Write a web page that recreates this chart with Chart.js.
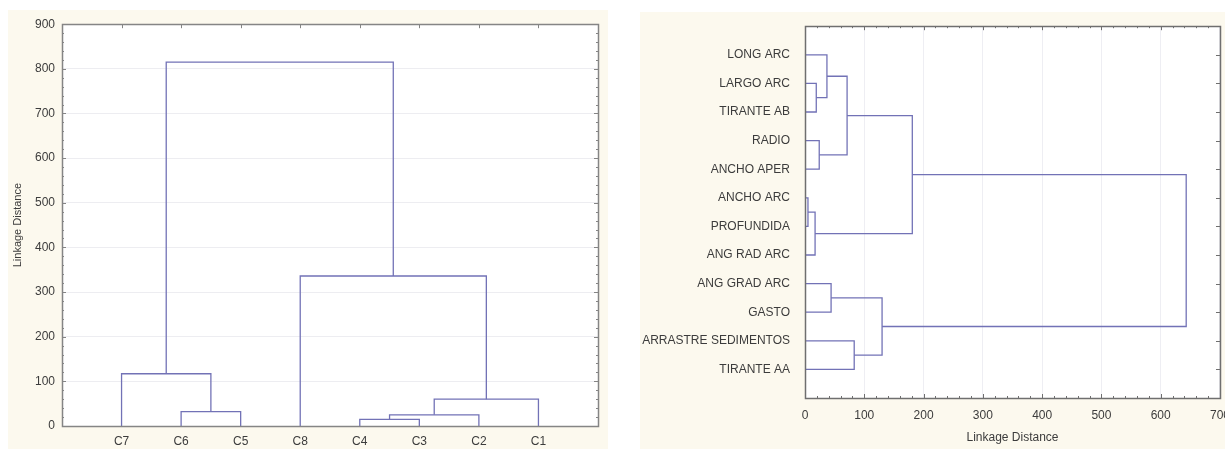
<!DOCTYPE html>
<html>
<head>
<meta charset="utf-8">
<script src="https://cdn.jsdelivr.net/npm/chart.js@4.4.1/dist/chart.umd.min.js"></script>
<style>
  html, body { margin: 0; padding: 0; background: #fff; overflow: hidden; width: 1225px; height: 449px; }
  .panel { position: absolute; background: #fcf9ee; }
  #leftPanel { left: 8px; top: 10px; width: 600px; height: 439px; }
  #rightPanel { left: 640px; top: 12px; width: 600px; height: 437px; }
</style>
</head>
<body>
<div class="panel" id="leftPanel"><canvas id="leftChart" width="600" height="439"></canvas></div>
<div class="panel" id="rightPanel"><canvas id="rightChart" width="600" height="437"></canvas></div>
<script>
// left dendrogram, leaves in drawing order
const clusterLabels = ['C7', 'C6', 'C5', 'C8', 'C4', 'C3', 'C2', 'C1'];
// [child a, child b, linkage distance]; ids >= leaf count point to earlier merges
const clusterMerges = [
  [4, 5, 15],
  [8, 6, 25],
  [1, 2, 32],
  [9, 7, 60],
  [0, 10, 117],
  [3, 11, 336],
  [12, 13, 815]
];
const clusterTicks = [0, 100, 200, 300, 400, 500, 600, 700, 800, 900];

// right dendrogram, leaves top to bottom
const varLabels = ['LONG ARC', 'LARGO ARC', 'TIRANTE AB', 'RADIO', 'ANCHO APER', 'ANCHO ARC',
  'PROFUNDIDA', 'ANG RAD ARC', 'ANG GRAD ARC', 'GASTO', 'ARRASTRE SEDIMENTOS', 'TIRANTE AA'];
const varMerges = [
  [5, 6, 5],
  [12, 7, 17],
  [1, 2, 19],
  [3, 4, 24],
  [0, 14, 37],
  [8, 9, 44],
  [16, 15, 71],
  [10, 11, 83],
  [17, 19, 130],
  [18, 13, 181],
  [21, 20, 643]
];
const varTicks = [0, 100, 200, 300, 400, 500, 600, 700];

const LINE = '#7272b6';
const TEXT = '#3c3c3c';
const FONT = { family: "'Liberation Sans', Arial, sans-serif", size: 12 };

function buildDatasets(labels, merges, horizontal) {
  const pos = labels.map((l, i) => i + 1);
  const h = labels.map(() => 0);
  const sets = [];
  merges.forEach(([a, b, d]) => {
    const pts = [[pos[a], h[a]], [pos[a], d], [pos[b], d], [pos[b], h[b]]];
    sets.push({
      data: pts.map(([p, v]) => horizontal ? { x: v, y: p } : { x: p, y: v }),
      showLine: true,
      borderColor: LINE,
      borderWidth: 1.3,
      pointRadius: 0,
      tension: 0
    });
    pos.push((pos[a] + pos[b]) / 2);
    h.push(d);
  });
  return sets;
}

function minorValues(ticks, step) {
  const out = [];
  for (let v = ticks[0]; v <= ticks[ticks.length - 1]; v += step) out.push(v);
  return out;
}

// white plot area, frame and inward tick marks
const framePlugin = {
  id: 'frame',
  beforeDraw(chart) {
    const a = chart.chartArea, ctx = chart.ctx;
    ctx.save();
    ctx.fillStyle = '#fff';
    ctx.fillRect(a.left, a.top, a.right - a.left, a.bottom - a.top);
    ctx.restore();
  },
  afterDraw(chart, args, opts) {
    const a = chart.chartArea, ctx = chart.ctx;
    ctx.save();
    ctx.strokeStyle = opts.color;
    ctx.lineWidth = 1;
    (opts.marks || []).forEach(m => {
      const sc = chart.scales[m.scale];
      m.values.forEach(v => {
        const p = Math.round(sc.getPixelForValue(v)) + 0.5;
        ctx.beginPath();
        if (m.side === 'left') { ctx.moveTo(a.left, p); ctx.lineTo(a.left + m.len, p); }
        if (m.side === 'right') { ctx.moveTo(a.right, p); ctx.lineTo(a.right - m.len, p); }
        if (m.side === 'top') { ctx.moveTo(p, a.top); ctx.lineTo(p, a.top + m.len); }
        if (m.side === 'bottom') { ctx.moveTo(p, a.bottom); ctx.lineTo(p, a.bottom - m.len); }
        ctx.stroke();
      });
    });
    ctx.lineWidth = opts.width;
    ctx.strokeRect(Math.round(a.left) + 0.5, Math.round(a.top) + 0.5,
      Math.round(a.right - a.left), Math.round(a.bottom - a.top));
    ctx.restore();
  }
};

new Chart(document.getElementById('leftChart'), {
  type: 'scatter',
  data: { datasets: buildDatasets(clusterLabels, clusterMerges, false) },
  options: {
    responsive: false,
    animation: false,
    events: [],
    layout: { padding: { top: 14, right: 10, left: 0, bottom: 0 } },
    plugins: {
      legend: { display: false },
      tooltip: { enabled: false },
      frame: {
        color: '#858585',
        width: 1.5,
        marks: [
          { scale: 'y', side: 'left', values: minorValues(clusterTicks, 20), len: 2 },
          { scale: 'y', side: 'left', values: clusterTicks, len: 4 },
          { scale: 'y', side: 'right', values: minorValues(clusterTicks, 20), len: 2 },
          { scale: 'y', side: 'right', values: clusterTicks, len: 4 },
          { scale: 'x', side: 'top', values: clusterLabels.map((l, i) => i + 1), len: 4 }
        ]
      }
    },
    scales: {
      x: {
        type: 'linear',
        min: 0,
        max: clusterLabels.length + 1,
        afterBuildTicks: s => { s.ticks = clusterLabels.map((l, i) => ({ value: i + 1 })); },
        afterFit: s => { s.height = 23; },
        ticks: {
          callback: v => clusterLabels[v - 1] || '',
          padding: 8, font: FONT, color: TEXT, maxRotation: 0, autoSkip: false
        },
        grid: { display: false, drawTicks: false },
        border: { display: false }
      },
      y: {
        min: clusterTicks[0],
        max: clusterTicks[clusterTicks.length - 1],
        afterBuildTicks: s => { s.ticks = clusterTicks.map(v => ({ value: v })); },
        afterFit: s => { s.width = 54; },
        ticks: { padding: 7, font: FONT, color: TEXT },
        grid: { color: '#ededf1', drawTicks: false },
        border: { display: false },
        title: { display: true, text: 'Linkage Distance', font: { ...FONT, size: 11 }, color: TEXT, padding: { top: 3, bottom: 0 } }
      }
    }
  },
  plugins: [framePlugin]
});

new Chart(document.getElementById('rightChart'), {
  type: 'scatter',
  data: { datasets: buildDatasets(varLabels, varMerges, true) },
  options: {
    responsive: false,
    animation: false,
    events: [],
    layout: { padding: { top: 7, right: 20, left: 0, bottom: 0 } },
    plugins: {
      legend: { display: false },
      tooltip: { enabled: false },
      frame: {
        color: '#6f6f6f',
        width: 1.5,
        marks: [
          { scale: 'x', side: 'top', values: minorValues(varTicks, 20), len: 2 },
          { scale: 'x', side: 'top', values: varTicks, len: 4 },
          { scale: 'x', side: 'bottom', values: minorValues(varTicks, 20), len: 2 },
          { scale: 'x', side: 'bottom', values: varTicks, len: 4 },
          { scale: 'y', side: 'right', values: varLabels.map((l, i) => i + 1), len: 4 }
        ]
      }
    },
    scales: {
      x: {
        type: 'linear',
        min: varTicks[0],
        max: varTicks[varTicks.length - 1],
        afterBuildTicks: s => { s.ticks = varTicks.map(v => ({ value: v })); },
        afterFit: s => { s.height = 51; },
        ticks: { padding: 10, font: FONT, color: TEXT, maxRotation: 0 },
        grid: { color: '#eeeef3', drawTicks: false },
        border: { display: false },
        title: { display: true, text: 'Linkage Distance', font: FONT, color: TEXT, padding: { top: 4, bottom: 4 } }
      },
      y: {
        type: 'linear',
        reverse: true,
        min: 0,
        max: varLabels.length + 1,
        afterBuildTicks: s => { s.ticks = varLabels.map((l, i) => ({ value: i + 1 })); },
        afterFit: s => { s.width = 165; },
        ticks: {
          callback: v => varLabels[v - 1] || '',
          padding: 7, font: FONT, color: TEXT, autoSkip: false
        },
        grid: { display: false },
        border: { display: false }
      }
    }
  },
  plugins: [framePlugin]
});
</script>
</body>
</html>
